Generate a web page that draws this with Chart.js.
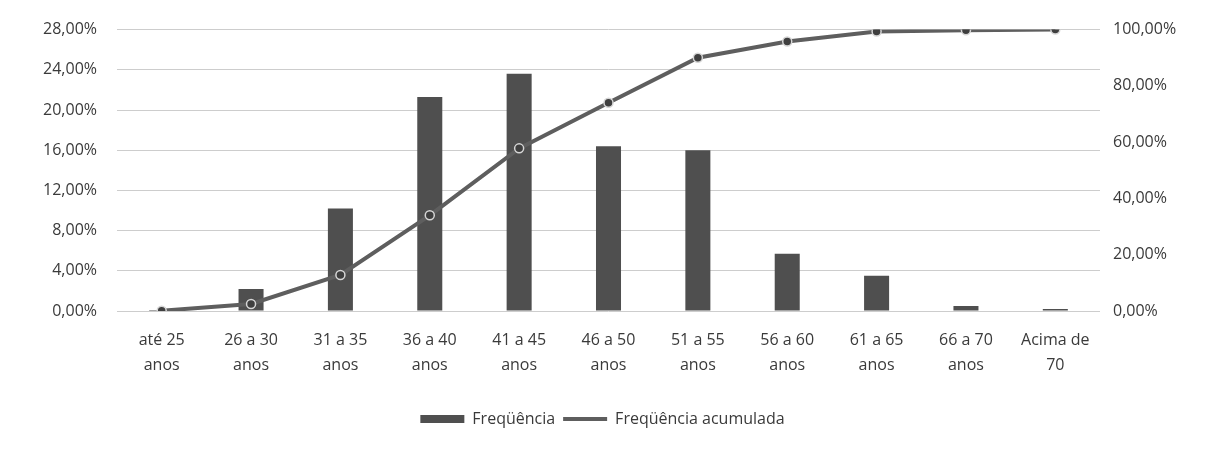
<!DOCTYPE html>
<html>
<head>
<meta charset="utf-8">
<script src="https://cdn.jsdelivr.net/npm/chart.js@4/dist/chart.umd.min.js"></script>
<style>
  html, body { margin: 0; padding: 0; background: #fff; }
  #wrap { width: 1205px; height: 449px; }
</style>
</head>
<body>
<div id="wrap"><canvas id="faixaChart"></canvas></div>
<script>
// faixas etárias
const faixas = [
    ['até 25', 'anos'], ['26 a 30', 'anos'], ['31 a 35', 'anos'], ['36 a 40', 'anos'],
    ['41 a 45', 'anos'], ['46 a 50', 'anos'], ['51 a 55', 'anos'], ['56 a 60', 'anos'],
    ['61 a 65', 'anos'], ['66 a 70', 'anos'], ['Acima de', '70']
];
// frequência (%) - eixo esquerdo
const frequencia = [0.1, 2.2, 10.2, 21.3, 23.6, 16.4, 16.0, 5.7, 3.5, 0.5, 0.2];
// frequência acumulada (%) - eixo direito
const acumulada = [0.1, 2.5, 12.8, 34.0, 57.8, 74.0, 90.0, 95.8, 99.3, 99.8, 100];
// ticks
const ticksEsq = [0, 4, 8, 12, 16, 20, 24, 28];
const ticksDir = [0, 20, 40, 60, 80, 100];

const fmt = v => v.toFixed(2).replace('.', ',') + '%';
const fonte = "'Open Sans', 'Liberation Sans', sans-serif";
const corLinha = '#5e5e5e';
const corBarra = '#4f4f4f';

const faixaData = {
    labels: faixas,
    datasets: [
        {
            type: 'line',
            label: 'Freqüência acumulada',
            data: acumulada,
            yAxisID: 'y1',
            borderColor: corLinha,
            backgroundColor: corLinha,
            borderWidth: 4,
            pointRadius: 4.5,
            pointBackgroundColor: '#3f3f3f',
            pointBorderColor: '#d6d6d6',
            pointBorderWidth: 1.5,
            tension: 0
        },
        {
            type: 'bar',
            label: 'Freqüência',
            data: frequencia,
            yAxisID: 'y',
            backgroundColor: corBarra,
            borderWidth: 0
        }
    ]
};

// legenda: caixa para as barras, linha para a acumulada
const gerarLegenda = chart => {
    const itens = Chart.defaults.plugins.legend.labels.generateLabels(chart);
    itens.forEach(item => {
        if (item.datasetIndex === 0) {
            item.pointStyle = 'line';
            item.strokeStyle = corLinha;
            item.lineWidth = 4;
        } else {
            item.pointStyle = 'rect';
            item.fillStyle = corBarra;
            item.lineWidth = 0;
        }
    });
    return itens;
};

const faixaConfig = {
    data: faixaData,
    options: {
        responsive: true,
        maintainAspectRatio: false,
        animation: false,
        barPercentage: 0.28,
        categoryPercentage: 1,
        layout: { padding: { top: 23, bottom: 12, left: 0, right: 0 } },
        scales: {
            x: {
                grid: { display: false, drawTicks: false },
                border: { display: false },
                ticks: {
                    color: '#3a3a3a',
                    font: { family: fonte, size: 16, lineHeight: 1.56 },
                    padding: 17,
                    maxRotation: 0,
                    autoSkip: false
                },
                afterFit: s => { s.height = 92; }
            },
            y: {
                position: 'left',
                min: 0,
                max: 28,
                afterBuildTicks: s => { s.ticks = ticksEsq.map(v => ({ value: v })); },
                grid: { color: '#cdcdcd', lineWidth: 1, drawTicks: false },
                border: { display: false },
                ticks: {
                    color: '#3a3a3a',
                    font: { family: fonte, size: 16 },
                    padding: 20,
                    callback: v => fmt(v)
                },
                afterFit: s => { s.width = 117; }
            },
            y1: {
                position: 'right',
                min: 0,
                max: 100,
                afterBuildTicks: s => { s.ticks = ticksDir.map(v => ({ value: v })); },
                grid: { display: false, drawTicks: false },
                border: { display: false },
                ticks: {
                    color: '#3a3a3a',
                    font: { family: fonte, size: 16 },
                    padding: 13,
                    callback: v => fmt(v)
                },
                afterFit: s => { s.width = 105; }
            }
        },
        plugins: {
            legend: {
                display: true,
                position: 'bottom',
                reverse: true,
                labels: {
                    color: '#3a3a3a',
                    font: { family: fonte, size: 16 },
                    usePointStyle: true,
                    pointStyleWidth: 44,
                    boxHeight: 8,
                    padding: 8,
                    generateLabels: gerarLegenda
                }
            },
            tooltip: { enabled: false }
        }
    }
};

const faixaElement = document.querySelector('#faixaChart');
const faixaChart = new Chart(faixaElement, faixaConfig);
</script>
</body>
</html>
